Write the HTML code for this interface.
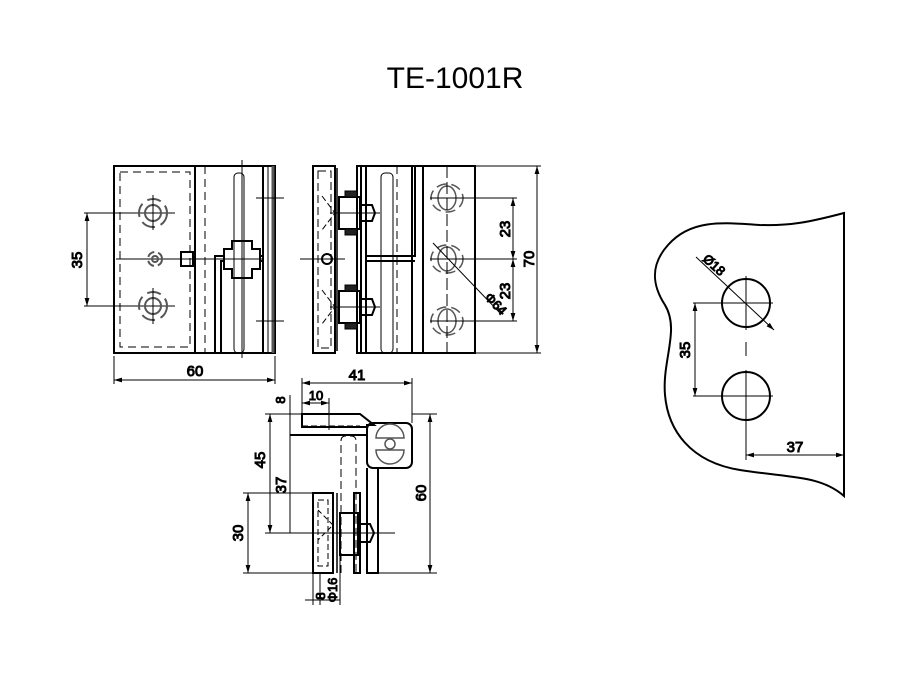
<!DOCTYPE html>
<html><head><style>
html,body{margin:0;padding:0;background:#fff}
svg{display:block}
text{font-family:"Liberation Sans",sans-serif;font-weight:normal;fill:#000}
</style></head><body>
<svg width="900" height="700" viewBox="0 0 900 700" xmlns="http://www.w3.org/2000/svg">
<defs>
<marker id="a" viewBox="0 0 10 6" refX="10" refY="3" markerWidth="8" markerHeight="5" orient="auto-start-reverse" markerUnits="userSpaceOnUse"><path d="M0,0L10,3L0,6z" fill="#000"/></marker>
</defs>
<text x="455" y="88" font-size="30" text-anchor="middle">TE-1001R</text>

<g fill="none" stroke="#000">
<!-- LEFT VIEW -->
<g stroke-width="2">
<rect x="114" y="166" width="161" height="187"/>
<line x1="195" y1="166" x2="195" y2="353"/>
<rect x="263" y="166" width="12" height="187"/>
<line x1="273" y1="166" x2="273" y2="353" stroke="#555" stroke-width="3"/>
<path d="M215,353V256H263M221,353V261H263"/>
<path d="M232,241H252V249H260V269H252V278H232V269H224V249H232Z" fill="#fff"/>
<rect x="181" y="252" width="12" height="14"/>
</g>
<g stroke-width="1" stroke-dasharray="8,5">
<rect x="120" y="172" width="70" height="175"/>
<line x1="205" y1="166" x2="205" y2="353"/>
<line x1="242" y1="166" x2="242" y2="353"/>
</g>
<g stroke-width="1">
<rect x="234" y="173" width="10" height="180" rx="4"/>
<line x1="268" y1="166" x2="268" y2="353"/>
<line x1="242" y1="160" x2="242" y2="358"/>
<line x1="256" y1="198" x2="284" y2="198"/><line x1="256" y1="321" x2="284" y2="321"/>
<line x1="116" y1="259" x2="263" y2="259"/>
<line x1="84" y1="213" x2="175" y2="213"/><line x1="84" y1="306" x2="175" y2="306"/>
</g>
<g stroke-width="2" stroke="#555">
<circle cx="153" cy="213" r="14" stroke-dasharray="14,6"/><circle cx="153" cy="213" r="8"/>
<circle cx="153" cy="306" r="14" stroke-dasharray="14,6"/><circle cx="153" cy="306" r="8"/>
<circle cx="155" cy="259" r="7" stroke-dasharray="8,4"/><circle cx="155" cy="259" r="3"/>
</g>
<line x1="153" y1="195" x2="153" y2="230" stroke-width="1"/><line x1="153" y1="288" x2="153" y2="324" stroke-width="1"/>
<g stroke-width="1">
<line x1="87" y1="213" x2="87" y2="306" marker-start="url(#a)" marker-end="url(#a)"/>
<line x1="114" y1="356" x2="114" y2="384"/><line x1="275" y1="356" x2="275" y2="384"/>
<line x1="114" y1="380" x2="275" y2="380" marker-start="url(#a)" marker-end="url(#a)"/>
</g>
<text x="82" y="260" font-size="15" transform="rotate(-90 82 260)" text-anchor="middle">35</text>
<text x="195" y="376" font-size="15" text-anchor="middle">60</text>

<!-- MIDDLE VIEW -->
<g stroke-width="2">
<rect x="313" y="166" width="22" height="187"/>
<line x1="337" y1="168" x2="337" y2="351" stroke-width="1.5"/>
<rect x="357" y="166" width="118" height="187"/>
<line x1="361" y1="166" x2="361" y2="353"/><line x1="366" y1="166" x2="366" y2="353"/>
<line x1="412" y1="166" x2="412" y2="353"/><line x1="423" y1="166" x2="423" y2="353"/>
<path d="M366,256H415V166M366,261H415"/>
<rect x="339" y="197" width="21" height="32"/><rect x="339" y="291" width="21" height="32"/>
<path d="M360,205H372L375,213L372,221H360M360,299H372L375,307L372,315H360"/>
<circle cx="327" cy="259" r="5"/>
</g>
<rect x="345" y="191" width="12" height="6" fill="#222"/><rect x="345" y="229" width="12" height="6" fill="#222"/>
<rect x="345" y="285" width="12" height="6" fill="#222"/><rect x="345" y="323" width="12" height="6" fill="#222"/>
<g stroke-width="1">
<path d="M322,196L335,213L322,230M322,290L335,307L322,324" stroke-dasharray="6,3"/>
<rect x="318" y="171" width="13" height="177" stroke-dasharray="8,4"/>
<rect x="381" y="173" width="12" height="180" rx="4"/>
<line x1="397" y1="166" x2="397" y2="353" stroke-dasharray="8,5"/>
<line x1="300" y1="259" x2="345" y2="259"/>
<line x1="330" y1="213" x2="380" y2="213"/><line x1="330" y1="307" x2="380" y2="307"/>
</g>
<g stroke-width="1.5" stroke="#555">
<ellipse cx="447" cy="198" rx="16" ry="14" stroke-dasharray="10,5"/><ellipse cx="447" cy="198" rx="9" ry="12"/>
<ellipse cx="447" cy="259" rx="16" ry="14" stroke-dasharray="10,5"/><ellipse cx="447" cy="259" rx="9" ry="12"/>
<ellipse cx="447" cy="321" rx="16" ry="14" stroke-dasharray="10,5"/><ellipse cx="447" cy="321" rx="9" ry="12"/>
</g>
<g stroke-width="1">
<line x1="447" y1="166" x2="447" y2="353" stroke-dasharray="12,4"/>
<line x1="430" y1="198" x2="517" y2="198"/><line x1="430" y1="259" x2="517" y2="259"/><line x1="430" y1="321" x2="517" y2="321"/>
<line x1="475" y1="166" x2="541" y2="166"/><line x1="475" y1="353" x2="541" y2="353"/>
<line x1="513" y1="198" x2="513" y2="259" marker-start="url(#a)" marker-end="url(#a)"/>
<line x1="513" y1="259" x2="513" y2="321" marker-start="url(#a)" marker-end="url(#a)"/>
<line x1="537" y1="166" x2="537" y2="353" marker-start="url(#a)" marker-end="url(#a)"/>
<line x1="433" y1="243" x2="500" y2="313"/>
</g>
<text x="510" y="229" font-size="15" transform="rotate(-90 510 229)" text-anchor="middle">23</text>
<text x="510" y="291" font-size="15" transform="rotate(-90 510 291)" text-anchor="middle">23</text>
<text x="534" y="259" font-size="15" transform="rotate(-90 534 259)" text-anchor="middle">70</text>
<text x="484" y="298" font-size="13" transform="rotate(46 484 298)">Φ64</text>

<!-- BOTTOM VIEW -->
<g stroke-width="2">
<path d="M302,414H360L374,425H367V427H302Z"/>
<rect x="367" y="423" width="45" height="45" rx="6"/>
<path d="M367,468V573H378V468"/>
<path d="M290,435H367"/>
<rect x="313" y="493" width="20" height="80"/>
<line x1="337" y1="493" x2="337" y2="573" stroke-width="1.5"/>
<rect x="354" y="493" width="6" height="80"/>
<rect x="340" y="513" width="18" height="42"/>
<path d="M358,524H370L374,533L370,542H358"/>
</g>
<g stroke-width="1">
<line x1="302" y1="426" x2="360" y2="426" stroke-dasharray="6,3"/>
<path d="M341,573V441Q341,436 346,436H351Q356,436 356,441V573" stroke-dasharray="8,4"/>
<path d="M318,510L333,525L318,540" stroke-dasharray="5,3"/>
<rect x="318" y="500" width="10" height="66" stroke-dasharray="6,3"/>
<line x1="300" y1="533" x2="395" y2="533"/>
</g>
<g stroke-width="1.5" stroke="#555">
<path d="M376,438A14,14 0 0 1 404,438Z M376,450A14,14 0 0 0 404,450Z"/>
<circle cx="390" cy="444" r="5"/>
</g>
<g stroke-width="1">
<line x1="302" y1="378" x2="302" y2="414"/><line x1="412" y1="378" x2="412" y2="423"/>
<line x1="302" y1="383" x2="412" y2="383" marker-start="url(#a)" marker-end="url(#a)"/>
<line x1="329" y1="398" x2="329" y2="430"/>
<line x1="302" y1="403" x2="329" y2="403" marker-start="url(#a)" marker-end="url(#a)"/>
<line x1="265" y1="414" x2="302" y2="414"/><line x1="412" y1="414" x2="437" y2="414"/>
<line x1="378" y1="573" x2="437" y2="573"/>
<line x1="430" y1="414" x2="430" y2="573" marker-start="url(#a)" marker-end="url(#a)"/>
<line x1="270" y1="414" x2="270" y2="533" marker-start="url(#a)" marker-end="url(#a)"/>
<line x1="265" y1="533" x2="300" y2="533"/>
<line x1="290" y1="395" x2="290" y2="533"/>
<line x1="243" y1="493" x2="313" y2="493"/><line x1="243" y1="573" x2="313" y2="573"/>
<line x1="248" y1="493" x2="248" y2="573" marker-start="url(#a)" marker-end="url(#a)"/>
<line x1="313" y1="573" x2="313" y2="605"/><line x1="320" y1="573" x2="320" y2="605"/><line x1="340" y1="555" x2="340" y2="605"/>
<line x1="305" y1="600" x2="340" y2="600"/>
</g>
<text x="285" y="400" font-size="13" transform="rotate(-90 285 400)" text-anchor="middle">8</text>
<text x="316" y="400" font-size="13" text-anchor="middle">10</text>
<text x="357" y="380" font-size="15" text-anchor="middle">41</text>
<text x="265" y="460" font-size="15" transform="rotate(-90 265 460)" text-anchor="middle">45</text>
<text x="286" y="485" font-size="15" transform="rotate(-90 286 485)" text-anchor="middle">37</text>
<text x="243" y="533" font-size="15" transform="rotate(-90 243 533)" text-anchor="middle">30</text>
<text x="426" y="493" font-size="15" transform="rotate(-90 426 493)" text-anchor="middle">60</text>
<text x="325" y="596" font-size="13" transform="rotate(-90 325 596)" text-anchor="middle">8</text>
<text x="337" y="590" font-size="13" transform="rotate(-90 337 590)" text-anchor="middle">Φ16</text>

<!-- RIGHT VIEW -->
<path d="M844,213C810,222 790,226 760,225C720,222 690,220 668,245C650,265 652,285 665,305C680,330 662,360 665,395C668,430 690,462 740,470C790,478 820,475 844,496Z" stroke-width="2" fill="none"/>
<line x1="844" y1="213" x2="844" y2="496" stroke-width="2"/>
<circle cx="746" cy="303" r="24" stroke-width="2"/>
<circle cx="746" cy="396" r="24" stroke-width="2"/>
<g stroke-width="1">
<line x1="746" y1="276" x2="746" y2="330"/><line x1="720" y1="303" x2="773" y2="303"/>
<line x1="746" y1="342" x2="746" y2="358" stroke-dasharray="14,4"/>
<line x1="746" y1="370" x2="746" y2="460"/><line x1="720" y1="396" x2="773" y2="396"/>
<line x1="693" y1="303" x2="720" y2="303"/><line x1="693" y1="396" x2="720" y2="396"/>
<line x1="695" y1="303" x2="695" y2="396" marker-start="url(#a)" marker-end="url(#a)"/>
<line x1="696" y1="257" x2="774" y2="330" marker-end="url(#a)"/>
<line x1="746" y1="455" x2="844" y2="455" marker-start="url(#a)" marker-end="url(#a)"/>
</g>
<text x="702" y="260" font-size="13" transform="rotate(42 702 260)">Ø18</text>
<text x="690" y="350" font-size="15" transform="rotate(-90 690 350)" text-anchor="middle">35</text>
<text x="795" y="452" font-size="15" text-anchor="middle">37</text>
</g>
</svg>
</body></html>
